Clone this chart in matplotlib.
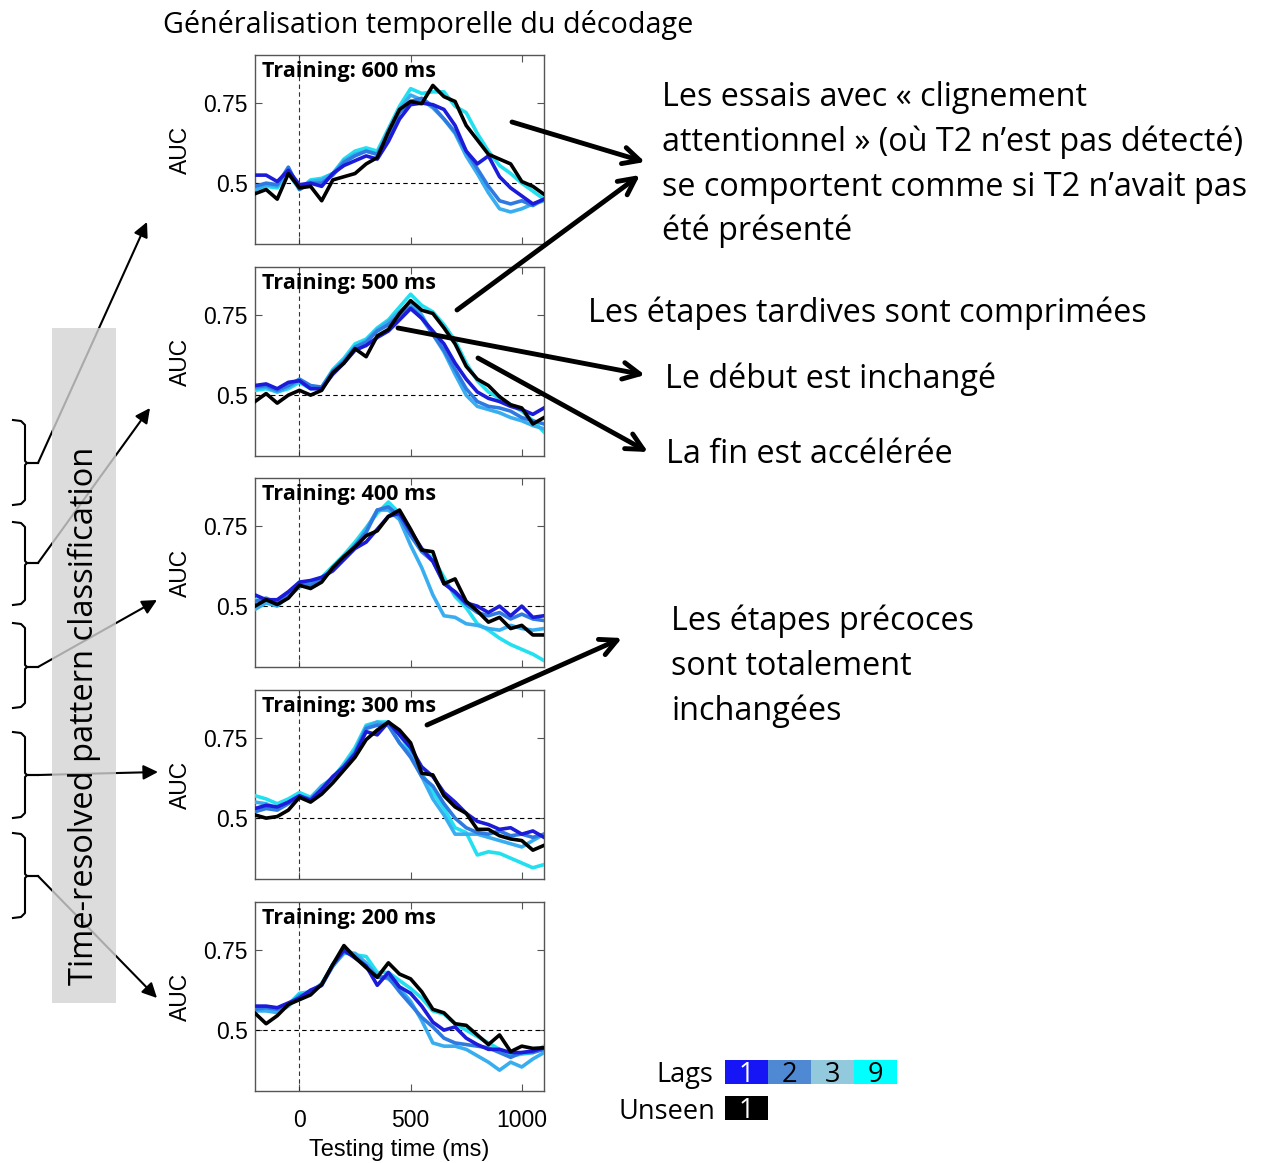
import matplotlib
matplotlib.use("Agg")
import matplotlib.pyplot as plt
from matplotlib.patches import Rectangle
from matplotlib.lines import Line2D

# testing time grid (ms)
times = [-200, -150, -100, -50, 0, 50, 100, 150, 200, 250, 300, 350, 400,
         450, 500, 550, 600, 650, 700, 750, 800, 850, 900, 950, 1000, 1050, 1100]

training_ms = [600, 500, 400, 300, 200]
lag_names = ["1", "2", "3", "9"]

# AUC curves, one list per (condition, training time)
lag1_600 = [0.525, 0.525, 0.505, 0.54, 0.495, 0.50, 0.49, 0.53, 0.555, 0.57, 0.585, 0.575, 0.63, 0.70, 0.745, 0.75, 0.745, 0.73, 0.68, 0.60, 0.56, 0.585, 0.52, 0.485, 0.46, 0.435, 0.45]
lag2_600 = [0.49, 0.50, 0.495, 0.55, 0.48, 0.50, 0.50, 0.525, 0.565, 0.585, 0.60, 0.59, 0.65, 0.72, 0.755, 0.765, 0.74, 0.70, 0.66, 0.60, 0.545, 0.49, 0.445, 0.435, 0.445, 0.43, 0.45]
lag3_600 = [0.48, 0.495, 0.49, 0.545, 0.485, 0.505, 0.51, 0.53, 0.57, 0.59, 0.60, 0.59, 0.665, 0.73, 0.775, 0.76, 0.735, 0.70, 0.655, 0.585, 0.53, 0.47, 0.42, 0.41, 0.42, 0.435, 0.445]
lag9_600 = [0.48, 0.49, 0.485, 0.53, 0.48, 0.51, 0.515, 0.53, 0.575, 0.60, 0.61, 0.60, 0.67, 0.74, 0.795, 0.78, 0.785, 0.785, 0.74, 0.72, 0.655, 0.60, 0.555, 0.53, 0.50, 0.475, 0.45]
unseen_600 = [0.467, 0.48, 0.45, 0.53, 0.485, 0.49, 0.445, 0.51, 0.52, 0.53, 0.56, 0.58, 0.66, 0.73, 0.755, 0.748, 0.805, 0.77, 0.755, 0.68, 0.635, 0.59, 0.575, 0.56, 0.505, 0.49, 0.465]

lag1_500 = [0.53, 0.535, 0.52, 0.54, 0.545, 0.52, 0.52, 0.565, 0.60, 0.64, 0.655, 0.68, 0.70, 0.735, 0.77, 0.74, 0.70, 0.66, 0.60, 0.55, 0.51, 0.49, 0.48, 0.465, 0.455, 0.44, 0.46]
lag2_500 = [0.525, 0.53, 0.515, 0.53, 0.55, 0.53, 0.525, 0.575, 0.605, 0.65, 0.665, 0.70, 0.72, 0.75, 0.775, 0.74, 0.69, 0.64, 0.58, 0.52, 0.48, 0.465, 0.46, 0.45, 0.43, 0.42, 0.41]
lag3_500 = [0.52, 0.525, 0.51, 0.525, 0.545, 0.525, 0.52, 0.575, 0.61, 0.65, 0.67, 0.705, 0.73, 0.76, 0.79, 0.75, 0.69, 0.635, 0.565, 0.50, 0.465, 0.455, 0.445, 0.43, 0.42, 0.405, 0.395]
lag9_500 = [0.515, 0.52, 0.51, 0.52, 0.54, 0.52, 0.525, 0.58, 0.615, 0.66, 0.675, 0.71, 0.735, 0.775, 0.815, 0.78, 0.76, 0.72, 0.67, 0.60, 0.545, 0.51, 0.49, 0.47, 0.45, 0.42, 0.385]
unseen_500 = [0.48, 0.505, 0.475, 0.50, 0.515, 0.50, 0.515, 0.57, 0.60, 0.645, 0.62, 0.685, 0.705, 0.755, 0.795, 0.765, 0.755, 0.71, 0.66, 0.59, 0.55, 0.53, 0.495, 0.47, 0.46, 0.41, 0.43]

lag1_400 = [0.535, 0.52, 0.52, 0.545, 0.575, 0.58, 0.59, 0.61, 0.645, 0.68, 0.70, 0.74, 0.78, 0.79, 0.735, 0.68, 0.64, 0.57, 0.545, 0.51, 0.50, 0.48, 0.50, 0.47, 0.50, 0.465, 0.47]
lag2_400 = [0.515, 0.525, 0.51, 0.54, 0.57, 0.565, 0.585, 0.615, 0.65, 0.69, 0.73, 0.80, 0.81, 0.78, 0.72, 0.67, 0.64, 0.575, 0.54, 0.505, 0.48, 0.47, 0.48, 0.46, 0.475, 0.46, 0.455]
lag3_400 = [0.49, 0.51, 0.50, 0.53, 0.56, 0.57, 0.58, 0.62, 0.65, 0.685, 0.74, 0.80, 0.80, 0.77, 0.69, 0.62, 0.535, 0.47, 0.465, 0.445, 0.44, 0.43, 0.425, 0.44, 0.43, 0.425, 0.43]
lag9_400 = [0.52, 0.51, 0.515, 0.535, 0.575, 0.575, 0.59, 0.625, 0.66, 0.70, 0.745, 0.79, 0.825, 0.79, 0.725, 0.675, 0.65, 0.59, 0.53, 0.495, 0.445, 0.425, 0.40, 0.38, 0.365, 0.35, 0.33]
unseen_400 = [0.50, 0.52, 0.505, 0.525, 0.565, 0.555, 0.575, 0.62, 0.655, 0.685, 0.72, 0.735, 0.78, 0.80, 0.74, 0.675, 0.67, 0.57, 0.585, 0.515, 0.485, 0.45, 0.465, 0.43, 0.44, 0.41, 0.41]

lag1_300 = [0.53, 0.54, 0.535, 0.55, 0.57, 0.555, 0.59, 0.63, 0.66, 0.70, 0.77, 0.76, 0.80, 0.76, 0.72, 0.66, 0.63, 0.58, 0.55, 0.515, 0.49, 0.48, 0.465, 0.47, 0.45, 0.46, 0.44]
lag2_300 = [0.52, 0.53, 0.525, 0.545, 0.565, 0.56, 0.59, 0.625, 0.66, 0.705, 0.78, 0.79, 0.79, 0.735, 0.69, 0.63, 0.60, 0.545, 0.50, 0.47, 0.455, 0.45, 0.46, 0.445, 0.45, 0.44, 0.45]
lag3_300 = [0.55, 0.545, 0.53, 0.55, 0.57, 0.56, 0.60, 0.625, 0.665, 0.71, 0.785, 0.80, 0.79, 0.735, 0.70, 0.63, 0.56, 0.51, 0.45, 0.45, 0.45, 0.44, 0.43, 0.42, 0.41, 0.43, 0.45]
lag9_300 = [0.57, 0.56, 0.545, 0.56, 0.58, 0.565, 0.60, 0.625, 0.67, 0.72, 0.79, 0.80, 0.80, 0.76, 0.71, 0.64, 0.58, 0.53, 0.47, 0.455, 0.385, 0.395, 0.39, 0.375, 0.36, 0.345, 0.355]
unseen_300 = [0.51, 0.50, 0.505, 0.525, 0.565, 0.55, 0.575, 0.61, 0.65, 0.69, 0.745, 0.775, 0.80, 0.775, 0.735, 0.64, 0.635, 0.57, 0.535, 0.515, 0.465, 0.465, 0.445, 0.435, 0.43, 0.40, 0.415]

lag1_200 = [0.575, 0.575, 0.57, 0.585, 0.60, 0.625, 0.64, 0.705, 0.75, 0.725, 0.70, 0.64, 0.68, 0.635, 0.615, 0.575, 0.525, 0.50, 0.51, 0.475, 0.455, 0.44, 0.44, 0.43, 0.43, 0.435, 0.445]
lag2_200 = [0.565, 0.57, 0.565, 0.58, 0.605, 0.62, 0.64, 0.70, 0.745, 0.73, 0.70, 0.665, 0.665, 0.62, 0.58, 0.54, 0.51, 0.475, 0.46, 0.455, 0.45, 0.445, 0.43, 0.415, 0.43, 0.43, 0.44]
lag3_200 = [0.56, 0.56, 0.555, 0.575, 0.61, 0.615, 0.645, 0.70, 0.74, 0.74, 0.71, 0.67, 0.66, 0.63, 0.59, 0.53, 0.46, 0.45, 0.45, 0.44, 0.42, 0.40, 0.375, 0.40, 0.385, 0.41, 0.43]
lag9_200 = [0.565, 0.565, 0.56, 0.58, 0.615, 0.62, 0.645, 0.705, 0.755, 0.735, 0.73, 0.68, 0.68, 0.655, 0.63, 0.60, 0.56, 0.55, 0.52, 0.50, 0.48, 0.46, 0.44, 0.42, 0.425, 0.43, 0.45]
unseen_200 = [0.553, 0.52, 0.545, 0.58, 0.595, 0.61, 0.643, 0.705, 0.764, 0.727, 0.695, 0.665, 0.71, 0.675, 0.66, 0.62, 0.565, 0.554, 0.52, 0.515, 0.485, 0.455, 0.485, 0.433, 0.45, 0.443, 0.445]

panels = {
    600: [lag1_600, lag2_600, lag3_600, lag9_600, unseen_600],
    500: [lag1_500, lag2_500, lag3_500, lag9_500, unseen_500],
    400: [lag1_400, lag2_400, lag3_400, lag9_400, unseen_400],
    300: [lag1_300, lag2_300, lag3_300, lag9_300, unseen_300],
    200: [lag1_200, lag2_200, lag3_200, lag9_200, unseen_200],
}

line_colors = ["#1b1bd9", "#2e7ae0", "#38aef0", "#22e0f0", "black"]
legend_colors = ["#1515f5", "#5089d3", "#93c9dd", "#00ffff"]

CAL = "Open Sans"     # stand-in for Calibri
ARIAL = "Liberation Sans"

W, H = 1261, 1163
fig = plt.figure(figsize=(W / 100, H / 100), dpi=100)


def px_axes(left, top, right, bottom):
    return fig.add_axes([left / W, 1 - bottom / H, (right - left) / W, (bottom - top) / H])


panel_tops = [55, 267, 478, 690, 902]
for i, (tr, top) in enumerate(zip(training_ms, panel_tops)):
    ax = px_axes(255, top, 544, top + 189)
    curves = panels[tr]
    # cyan first, black last
    for k in [3, 2, 1, 0, 4]:
        ax.plot(times, curves[k], color=line_colors[k], lw=2.6, zorder=3)
    ax.axhline(0.5, color="k", ls=(0, (4, 3)), lw=0.8, zorder=2)
    ax.axvline(0, color="#333333", ls=(0, (4, 3)), lw=0.8, zorder=2)
    ax.set_xlim(-200, 1100)
    ax.set_ylim(0.31, 0.9)
    ax.set_yticks([0.5, 0.75])
    ax.set_yticklabels(["0.5", "0.75"])
    ax.set_xticks([0, 500, 1000])
    for s in ax.spines.values():
        s.set_color("#555555")
        s.set_linewidth(1.0)
    ax.tick_params(direction="in", top=True, right=True, length=5, color="#555555",
                   labelsize=16.5)
    ax.tick_params(axis="y", pad=5)
    ax.tick_params(axis="x", pad=13)
    for lab in ax.get_yticklabels() + ax.get_xticklabels():
        lab.set_fontfamily(ARIAL)
    ax.set_ylabel("AUC", fontsize=16.5, family=ARIAL, labelpad=8)
    if i < 4:
        ax.set_xticklabels([])
    else:
        ax.set_xlabel("Testing time (ms)", fontsize=17, family=ARIAL, labelpad=5)
    ax.text(0.024, 1 - 22 / 189, "Training: %d ms" % tr, transform=ax.transAxes,
            fontsize=15.6, fontweight="bold", family=CAL, va="baseline", ha="left", zorder=5)

# overlay in pixel coordinates for annotations
ov = fig.add_axes([0, 0, 1, 1])
ov.set_xlim(0, W)
ov.set_ylim(H, 0)
ov.axis("off")

ov.text(163, 33, "Généralisation temporelle du décodage", fontsize=20.7, family=CAL,
        ha="left", va="baseline")

txt = dict(fontsize=23.3, family=CAL, ha="left", va="baseline")
ov.text(662, 106, "Les essais avec « clignement", **txt)
ov.text(662, 151, "attentionnel » (où T2 n’est pas détecté)", **txt)
ov.text(662, 196, "se comportent comme si T2 n’avait pas", **txt)
ov.text(662, 240, "été présenté", **txt)
ov.text(588, 322, "Les étapes tardives sont comprimées", **txt)
ov.text(665, 388, "Le début est inchangé", **txt)
ov.text(666, 463, "La fin est accélérée", **txt)
ov.text(671, 630, "Les étapes précoces", **txt)
ov.text(671, 675, "sont totalement", **txt)
ov.text(671, 720, "inchangées", **txt)

# thick black arrows
big_arrows = [((512, 122), (645, 162)), ((457, 310), (640, 175)),
              ((398, 328), (645, 375)), ((478, 358), (648, 452)),
              ((427, 725), (622, 638))]
for (x0, y0), (x1, y1) in big_arrows:
    ov.annotate("", xy=(x1, y1), xytext=(x0, y0),
                arrowprops=dict(arrowstyle="->", lw=3.5, color="black",
                                mutation_scale=30, shrinkA=0, shrinkB=0), zorder=6)

# braces and thin arrows on the left
braces = [(420, 463, 505), (522, 563, 605), (623, 667, 708), (732, 775, 818), (833, 876, 918)]
targets = [(147, 222), (150, 408), (157, 600), (158, 772), (157, 998)]
for (t, m, b), (tx, ty) in zip(braces, targets):
    ov.add_line(Line2D([13, 21, 25, 25, 27, 38], [t, t + 1, t + 5, m - 2, m, m],
                       color="black", lw=1.5, zorder=1))
    ov.add_line(Line2D([38, 27, 25, 25, 21, 13], [m, m, m + 2, b - 5, b - 1, b],
                       color="black", lw=1.5, zorder=1))
    ov.annotate("", xy=(tx, ty), xytext=(38, m),
                arrowprops=dict(arrowstyle="-|>", lw=1.5, color="black",
                                mutation_scale=22, shrinkA=0, shrinkB=0), zorder=1)

ov.add_patch(Rectangle((52, 328), 64, 675, facecolor="#d4d4d4", alpha=0.8,
                       edgecolor="none", zorder=2))
ov.text(84, 716, "Time-resolved pattern classification", rotation=90, fontsize=23.5,
        family="Open Sans", ha="center", va="center", zorder=3)

# legend
leg = dict(fontsize=19.5, family=CAL, va="baseline")
for j, (name, c) in enumerate(zip(lag_names, legend_colors)):
    x = 725 + 43 * j
    ov.add_patch(Rectangle((x, 1060), 43, 24, facecolor=c, edgecolor="none", zorder=3))
    ov.text(x + 21.5, 1082, name, ha="center",
            color="white" if j == 0 else "black", zorder=4, **leg)
ov.add_patch(Rectangle((725, 1096), 43, 24, facecolor="black", edgecolor="none", zorder=3))
ov.text(746.5, 1118, "1", ha="center", color="white", zorder=4, **leg)
ov.text(713, 1082, "Lags", ha="right", **leg)
ov.text(715, 1119, "Unseen", ha="right", **leg)

fig.savefig("out.png", dpi=100)
